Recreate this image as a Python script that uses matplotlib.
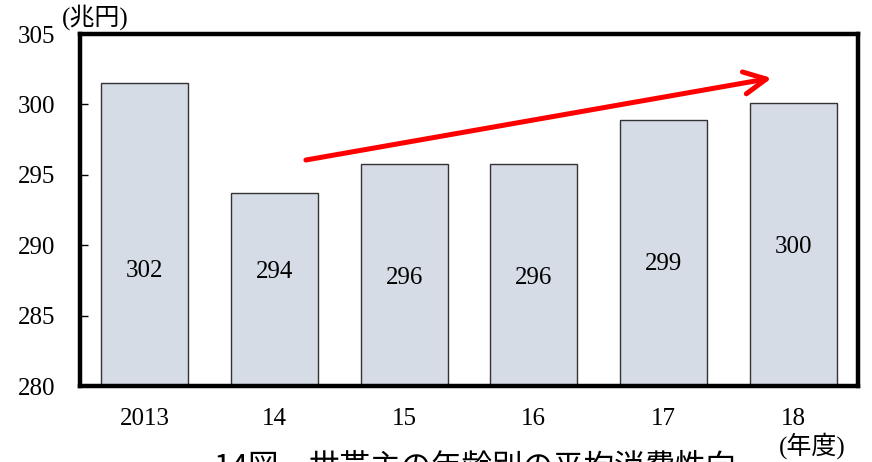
import matplotlib
matplotlib.use('Agg')
import matplotlib.pyplot as plt

plt.rcParams['font.family'] = ['Liberation Serif', 'Noto Sans CJK JP']

years = ['2013', '14', '15', '16', '17', '18']
values = [301.5, 293.7, 295.8, 295.8, 298.9, 300.1]
labels = ['302', '294', '296', '296', '299', '300']
label_y = [288.2, 288.1, 287.7, 287.7, 288.7, 289.9]

fig = plt.figure(figsize=(8.72, 4.62), dpi=100)
ax = fig.add_axes([80/872, 1-386/462, 778/872, 352/462])

x = range(len(years))
ax.bar(x, values, width=0.67, color='#d5dce6', edgecolor='#333333', linewidth=1.0, zorder=2)
for i in x:
    ax.text(i, label_y[i], labels[i], ha='center', va='center', fontsize=18)

ax.set_xlim(-0.5, 5.5)
ax.set_ylim(280, 305)
ax.set_yticks([280, 285, 290, 295, 300, 305])
ax.set_xticks(list(x))
ax.set_xticklabels(years)
ax.tick_params(axis='y', direction='in', length=6, width=1, labelsize=18, pad=18)
ax.tick_params(axis='x', length=0, labelsize=18, pad=16)
for s in ax.spines.values():
    s.set_linewidth(3.2)

# red trend arrow
ax.annotate('', xy=(4.835, 301.87), xytext=(1.242, 296.05),
            arrowprops=dict(arrowstyle='->,head_length=0.8,head_width=0.4',
                            color='red', lw=3.6, mutation_scale=20, shrinkA=0, shrinkB=0),
            zorder=3)

fig.text(62/872, 1-17/462, '(兆円)', fontsize=18, ha='left', va='center')
fig.text(812/872, 1-446/462, '(年度)', fontsize=18, ha='center', va='center')
fig.text(475/872, 1-451/462, '14図　世帯主の年齢別の平均消費性向', fontsize=22,
         family=['Noto Sans CJK JP'], ha='center', va='top')

plt.savefig('out.png', dpi=100)
